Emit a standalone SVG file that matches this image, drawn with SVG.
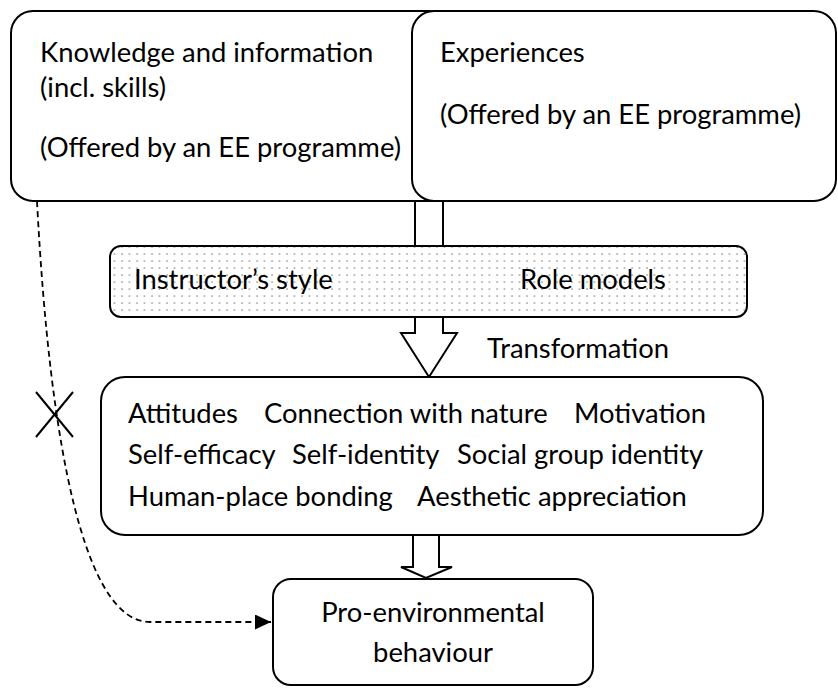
<svg xmlns="http://www.w3.org/2000/svg" width="838" height="688" viewBox="0 0 838 688">
  <style>
    .box { fill: #ffffff; stroke: #000000; stroke-width: 2; }
    .band { fill: url(#dots); stroke: #000000; stroke-width: 2; }
    .blk { fill: #ffffff; stroke: #000000; stroke-width: 2; stroke-linejoin: miter; }
    .txt { font-family: Lato, "Open Sans", "Liberation Sans", sans-serif; font-size: 27.4px; fill: #000000; }
    .dash { fill: none; stroke: #000000; stroke-width: 1.8; stroke-dasharray: 6 4; }
    .cross { stroke: #000000; stroke-width: 2; fill: none; }
  </style>
  <defs>
    <pattern id="dots" patternUnits="userSpaceOnUse" width="7.5" height="7" x="0" y="0">
      <rect width="7.5" height="7" fill="#ffffff"/>
      <circle cx="2" cy="2" r="0.85" fill="#8a8a8a"/>
    </pattern>
    <marker id="arrow" markerUnits="userSpaceOnUse" markerWidth="17" markerHeight="16" refX="16" refY="7.5" orient="auto">
      <path d="M0,0 L16,7.5 L0,15 Z" fill="#000000"/>
    </marker>
  </defs>
  <rect width="838" height="688" fill="#ffffff"/>

  <g id="knowledge">
    <rect class="box" x="11" y="11" width="440" height="190" rx="22" ry="22"/>
    <text class="txt" x="40" y="62">Knowledge and information</text>
    <text class="txt" x="40" y="97">(incl. skills)</text>
    <text class="txt" x="40" y="157">(Offered by an EE programme)</text>
  </g>

  <g id="experiences">
    <rect class="box" x="412" y="11" width="424" height="190" rx="22" ry="22"/>
    <text class="txt" x="440" y="62">Experiences</text>
    <text class="txt" x="440" y="124">(Offered by an EE programme)</text>
  </g>

  <g id="connectors">
    <polygon class="blk" points="415,201 415,333 401,333 429,377 457,333 443,333 443,201"/>
    <polygon class="blk" points="413,535 413,567 401,567 426,578 452,567 439,567 439,535"/>
    <path class="dash" d="M37,201 C50,450 85,622 150,622 L271,622" marker-end="url(#arrow)"/>
    <line class="cross" x1="36" y1="392" x2="73" y2="437"/>
    <line class="cross" x1="73" y1="392" x2="36" y2="437"/>
  </g>

  <g id="moderators">
    <rect class="band" x="110" y="246" width="637" height="71" rx="11" ry="11"/>
    <text class="txt" x="134" y="289">Instructor’s style</text>
    <text class="txt" x="520" y="289">Role models</text>
  </g>

  <g id="transformation-label">
    <text class="txt" x="487" y="358">Transformation</text>
  </g>

  <g id="psychological-factors">
    <rect class="box" x="101" y="377" width="662" height="158" rx="24" ry="24"/>
    <text class="txt" y="423"><tspan x="128">Attitudes</tspan><tspan x="264">Connection with nature</tspan><tspan x="574">Motivation</tspan></text>
    <text class="txt" y="464"><tspan x="128">Self-efficacy</tspan><tspan x="292">Self-identity</tspan><tspan x="457">Social group identity</tspan></text>
    <text class="txt" y="506"><tspan x="128">Human-place bonding</tspan><tspan x="417">Aesthetic appreciation</tspan></text>
  </g>

  <g id="behaviour">
    <rect class="box" x="273" y="579" width="320" height="106" rx="18" ry="18"/>
    <text class="txt" x="433" y="622" text-anchor="middle">Pro-environmental</text>
    <text class="txt" x="433" y="662" text-anchor="middle">behaviour</text>
  </g>
</svg>
